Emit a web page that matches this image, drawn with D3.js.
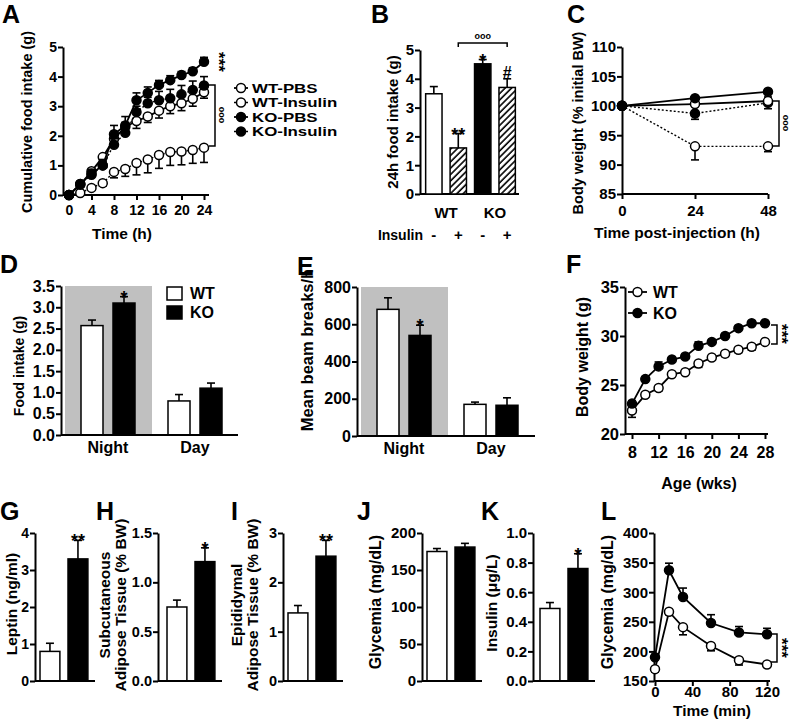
<!DOCTYPE html>
<html>
<head>
<meta charset="utf-8">
<script src="https://cdn.jsdelivr.net/npm/d3@7"></script>
<style>
body { margin: 0; background: #fff; }
svg text { font-family: "Liberation Sans", Arial, sans-serif; font-weight: bold; fill: #000; }
.axis path, .axis line { stroke: #000; stroke-width: 2; }
</style>
</head>
<body>
<div class="chart"></div>
<script>
// ---- Data ----
// A: cumulative food intake (g) over 24h
var timeA = [0, 2, 4, 6, 8, 10, 12, 14, 16, 18, 20, 22, 24];
var aWtPbs = [0, 0.35, 0.8, 1.28, 1.9, 2.3, 2.5, 2.65, 2.85, 3.0, 3.1, 3.25, 3.47];
var aWtPbsErr = [0, 0.05, 0.15, 0.15, 0.2, 0.2, 0.25, 0.2, 0.25, 0.25, 0.25, 0.25, 0.2];
var aWtIns = [0, 0.07, 0.24, 0.4, 0.78, 0.88, 1.08, 1.2, 1.35, 1.45, 1.47, 1.52, 1.6];
var aWtInsErr = [0, 0.05, 0.08, 0.1, 0.2, 0.25, 0.4, 0.45, 0.45, 0.45, 0.45, 0.45, 0.5];
var aKoPbs = [0, 0.37, 0.72, 1.0, 2.05, 2.35, 3.2, 3.45, 3.72, 3.88, 4.05, 4.18, 4.5];
var aKoPbsErr = [0, 0.05, 0.15, 0.2, 0.3, 0.3, 0.25, 0.2, 0.15, 0.15, 0.12, 0.12, 0.15];
var aKoIns = [0, 0.37, 0.68, 1.0, 1.7, 2.1, 2.8, 3.1, 3.2, 3.27, 3.4, 3.55, 3.7];
var aKoInsErr = [0, 0.05, 0.15, 0.15, 0.2, 0.35, 0.2, 0.2, 0.3, 0.3, 0.3, 0.3, 0.3];
var legendA = ["WT-PBS", "WT-Insulin", "KO-PBS", "KO-Insulin"];

// B: 24h food intake (g)
var groupsB = ["WT-PBS", "WT-Insulin", "KO-PBS", "KO-Insulin"];
var valuesB = [3.48, 1.6, 4.52, 3.7];
var errorsB = [0.25, 0.5, 0.15, 0.3];
var marksB = ["", "**", "*", "#"];
var insulinB = ["-", "+", "-", "+"];

// C: body weight (% initial BW)
var timeC = [0, 24, 48];
var cWtPbs = [100, 100.3, 100.8], cWtPbsErr = [0, 0.3, 0.7];
var cWtIns = [100, 93.1, 93.1], cWtInsErr = [0, 2.3, 0.9];
var cKoPbs = [100, 101.3, 102.4], cKoPbsErr = [0, 0.2, 0.3];
var cKoIns = [100, 98.7, 100.5], cKoInsErr = [0, 1.0, 1.0];

// D and E: night / day
var periods = ["Night", "Day"];
var genotypes = ["WT", "KO"];
var dWt = [2.57, 0.8], dWtErr = [0.13, 0.15];
var dKo = [3.1, 1.1], dKoErr = [0.15, 0.12];
var eWt = [680, 170], eWtErr = [62, 12];
var eKo = [540, 165], eKoErr = [55, 40];

// F: body weight (g) vs age (wks)
var ageF = [8, 10, 12, 14, 16, 18, 20, 22, 24, 26, 28];
var fWt = [22.4, 24.0, 24.7, 26.1, 26.3, 27.2, 27.8, 28.2, 28.6, 28.9, 29.4];
var fWtErr = [0.7, 0.25, 0.3, 0.2, 0.2, 0.4, 0.25, 0.3, 0.3, 0.35, 0.2];
var fKo = [23.1, 25.6, 26.9, 27.6, 27.9, 29.0, 29.4, 30.0, 30.8, 31.3, 31.3];
var fKoErr = [0.3, 0.25, 0.45, 0.2, 0.2, 0.4, 0.2, 0.2, 0.2, 0.2, 0.2];

// G-K: WT vs KO bars
var gVals = [0.8, 3.3], gErr = [0.22, 0.5];
var hVals = [0.75, 1.21], hErr = [0.07, 0.14];
var iVals = [1.38, 2.53], iErr = [0.15, 0.32];
var jVals = [175, 181], jErr = [4, 5];
var kVals = [0.49, 0.76], kErr = [0.04, 0.1];

// L: glucose tolerance
var timeL = [0, 15, 30, 60, 90, 120];
var lWt = [170, 267, 241, 209, 185, 178], lWtErr = [5, 5, 13, 8, 8, 5];
var lKo = [190, 337, 292, 248, 232, 229], lKoErr = [5, 12, 15, 14, 10, 10];

// ---- SVG ----
var svg = d3.select(".chart").append("svg")
    .attr("width", 797)
    .attr("height", 728);

// hatch pattern for insulin bars
svg.append("defs").append("pattern")
    .attr("id", "hatch")
    .attr("patternUnits", "userSpaceOnUse")
    .attr("width", 4.5).attr("height", 4.5)
    .attr("patternTransform", "rotate(45)")
    .call(function (p) {
        p.append("rect").attr("width", 4.5).attr("height", 4.5).attr("fill", "#fff");
        p.append("line").attr("x1", 1).attr("y1", 0).attr("x2", 1).attr("y2", 4.5)
            .attr("stroke", "#000").attr("stroke-width", 1.6);
    });

// ---- helpers ----
function text(g, str, x, y, size, anchor, rot, sx) {
    var t = g.append("text")
        .attr("font-size", size + "px")
        .attr("text-anchor", anchor || "middle")
        .text(str);
    if (rot) {
        t.attr("transform", "translate(" + x + "," + y + ") rotate(" + rot + ")").attr("dy", "0.35em");
    } else if (sx) {
        // horizontally stretched text (legend A is wider in the original)
        t.attr("transform", "translate(" + x + "," + y + ") scale(" + sx + ",1)");
    } else {
        t.attr("x", x).attr("y", y);
    }
    return t;
}

function yAxisAt(y, x, ticks, fmt, size) {
    svg.append("g").attr("class", "axis")
        .attr("transform", "translate(" + x + ",0)")
        .call(d3.axisLeft(y).tickValues(ticks).tickSize(5).tickSizeOuter(0).tickPadding(1)
            .tickFormat(fmt || d3.format("d")))
        .call(function (ax) {
            ax.selectAll("text").style("font-size", size + "px");
        });
}

function xAxisAt(x, y0, ticks, x0, x1, size, pad) {
    var ax = svg.append("g").attr("class", "axis")
        .attr("transform", "translate(0," + y0 + ")")
        .call(d3.axisBottom(x).tickValues(ticks).tickSize(5).tickSizeOuter(0).tickPadding(pad));
    ax.selectAll("text").style("font-size", size + "px");
    ax.select(".domain").attr("d", "M" + x0 + ",0H" + x1);
}

function baseLine(y0, x0, x1) {
    svg.append("line").attr("x1", x0).attr("x2", x1).attr("y1", y0).attr("y2", y0)
        .attr("stroke", "#000").attr("stroke-width", 2);
}

function bracket(x, y1, y2) {
    svg.append("path").attr("d", "M" + (x - 6) + "," + y1 + "H" + x + "V" + y2 + "H" + (x - 6))
        .attr("fill", "none").attr("stroke", "#000").attr("stroke-width", 1.5);
}

function errBar(g, cx, yv, ye, cap) {
    g.append("line").attr("x1", cx).attr("x2", cx).attr("y1", yv).attr("y2", ye)
        .attr("stroke", "#000").attr("stroke-width", 1.6);
    g.append("line").attr("x1", cx - cap).attr("x2", cx + cap).attr("y1", ye).attr("y2", ye)
        .attr("stroke", "#000").attr("stroke-width", 1.6);
}

// one line series with symbols; dir = +1 error up, -1 error down
function series(x, y, xs, ys, errs, dir, filled, dashed) {
    var g = svg.append("g");
    var line = d3.line().x(function (d, i) { return x(xs[i]); }).y(function (d) { return y(d); });
    g.append("path").datum(ys)
        .attr("d", line)
        .attr("fill", "none")
        .attr("stroke", "#000")
        .attr("stroke-width", dashed ? 1.4 : 1.8)
        .attr("stroke-dasharray", dashed ? "2,2" : null);
    ys.forEach(function (v, i) {
        if (errs[i] > 0) errBar(g, x(xs[i]), y(v), y(v + dir * errs[i]), 4);
    });
    g.selectAll("circle").data(ys).enter().append("circle")
        .attr("cx", function (d, i) { return x(xs[i]); })
        .attr("cy", function (d) { return y(d); })
        .attr("r", 4.5)
        .attr("fill", filled ? "#000" : "#fff")
        .attr("stroke", "#000")
        .attr("stroke-width", 1.5);
}

function bar(xLeft, w, y, v, e, fill, mark) {
    svg.append("rect")
        .attr("x", xLeft).attr("y", y(v))
        .attr("width", w).attr("height", y.range()[0] - y(v))
        .attr("fill", fill).attr("stroke", "#000").attr("stroke-width", 1.5);
    errBar(svg, xLeft + w / 2, y(v), y(v + e), 4);
    if (mark === "#") text(svg, mark, xLeft + w / 2, y(v + e) - 1, 16);
    else if (mark) text(svg, mark, xLeft + w / 2, y(v + e) + 7, 18);
}

function panelLetter(str, x, y) {
    text(svg, str, x, y, 25, "start");
}

// ---- Panel A ----
var xA = d3.scaleLinear().domain([0, 24]).range([69, 204]);
var yA = d3.scaleLinear().domain([0, 5]).range([195, 47]);
yAxisAt(yA, 63, [0, 1, 2, 3, 4, 5], null, 14);
xAxisAt(xA, 195, d3.range(0, 25, 4), 63, 209, 14, 5);
series(xA, yA, timeA, aWtIns, aWtInsErr, -1, false, true);
series(xA, yA, timeA, aWtPbs, aWtPbsErr, -1, false, false);
series(xA, yA, timeA, aKoIns, aKoInsErr, 1, true, true);
series(xA, yA, timeA, aKoPbs, aKoPbsErr, 1, true, false);
panelLetter("A", 2, 23);
text(svg, "Cumulative food intake (g)", 27, 122, 14.5, "middle", -90);
text(svg, "Time (h)", 122, 239, 15.5);
text(svg, "***", 219, 62, 17, "middle", 90);
bracket(215, 85, 146);
text(svg, "ooo", 222, 115, 9, "middle", 90);

// legend A
legendA.forEach(function (name, i) {
    var ly = 88 + i * 14.5;
    svg.append("line").attr("x1", 234).attr("x2", 248).attr("y1", ly).attr("y2", ly)
        .attr("stroke", "#000").attr("stroke-width", i % 2 ? 1.4 : 1.8)
        .attr("stroke-dasharray", i % 2 ? "2,2" : null);
    svg.append("circle").attr("cx", 241).attr("cy", ly).attr("r", 4.5)
        .attr("fill", i < 2 ? "#fff" : "#000").attr("stroke", "#000").attr("stroke-width", 1.5);
    text(svg, name, 252, ly + 4.5, 12.5, "start", null, 1.35);
});

// ---- Panel B ----
var yB = d3.scaleLinear().domain([0, 5]).range([194, 50]);
var xB = d3.scaleBand().domain(groupsB).range([421.5, 519.5]).paddingInner(0.33).paddingOuter(0.17);
var fillsB = ["#fff", "url(#hatch)", "#000", "url(#hatch)"];
yAxisAt(yB, 420, [0, 1, 2, 3, 4, 5], null, 15);
baseLine(194, 420, 519);
groupsB.forEach(function (gname, i) {
    bar(xB(gname), xB.bandwidth(), yB, valuesB[i], errorsB[i], fillsB[i], marksB[i]);
    text(svg, insulinB[i], xB(gname) + xB.bandwidth() / 2, 240, 15);
});
text(svg, "WT", (xB(groupsB[0]) + xB(groupsB[1]) + xB.bandwidth()) / 2, 218, 15);
text(svg, "KO", (xB(groupsB[2]) + xB(groupsB[3]) + xB.bandwidth()) / 2, 218, 15);
text(svg, "Insulin", 423, 240, 14, "end");
var bL = xB(groupsB[1]) + xB.bandwidth() / 2, bR = xB(groupsB[3]) + xB.bandwidth() / 2;
svg.append("path").attr("d", "M" + bL + ",47V43H" + bR + "V47").attr("fill", "none").attr("stroke", "#000").attr("stroke-width", 1.5);
text(svg, "ooo", (bL + bR) / 2, 39, 9);
panelLetter("B", 371, 23);
text(svg, "24h food intake (g)", 393, 122, 15, "middle", -90);

// ---- Panel C ----
var xC = d3.scaleLinear().domain([0, 48]).range([622, 768]);
var yC = d3.scaleLinear().domain([85, 110]).range([194, 47]);
yAxisAt(yC, 622, d3.range(85, 111, 5), null, 15);
xAxisAt(xC, 194, timeC, 622, 768, 15, 6);
series(xC, yC, timeC, cWtIns, cWtInsErr, -1, false, true);
series(xC, yC, timeC, cKoIns, cKoInsErr, -1, true, true);
series(xC, yC, timeC, cWtPbs, cWtPbsErr, 1, false, false);
series(xC, yC, timeC, cKoPbs, cKoPbsErr, 1, true, false);
bracket(779, 101, 146);
text(svg, "ooo", 786, 123, 9, "middle", 90);
panelLetter("C", 567, 23);
text(svg, "Body weight (% initial BW)", 578, 123, 14.5, "middle", -90);
text(svg, "Time post-injection (h)", 677, 238, 15.5);

// ---- Panel D / E (night vs day) ----
function dayNight(axisX, yScale, ticks, fmt, wt, wtErr, ko, koErr, xEnd, marks) {
    var y0 = yScale.range()[0], yTop = yScale.range()[1];
    var xG = d3.scaleBand().domain(periods).range([axisX + 3.5, axisX + 177.5]);
    var xI = d3.scaleBand().domain(genotypes).range([16.5, 70.5]).paddingInner(0.3125);
    // night shading
    svg.append("rect").attr("x", axisX + 4).attr("y", yTop)
        .attr("width", 87).attr("height", y0 - yTop).attr("fill", "#c0c0c0");
    periods.forEach(function (p, i) {
        bar(xG(p) + xI("WT"), xI.bandwidth(), yScale, wt[i], wtErr[i], "#fff", "");
        bar(xG(p) + xI("KO"), xI.bandwidth(), yScale, ko[i], koErr[i], "#000", marks[i]);
        text(svg, p, xG(p) + xG.bandwidth() / 2, y0 + 18, 16);
    });
    yAxisAt(yScale, axisX, ticks, fmt, 16);
    baseLine(y0, axisX, xEnd);
}
var yD = d3.scaleLinear().domain([0, 3.5]).range([435, 286]);
dayNight(61, yD, d3.range(0, 3.51, 0.5), d3.format(".1f"), dWt, dWtErr, dKo, dKoErr, 238, ["*", ""]);
panelLetter("D", 0, 273);
text(svg, "Food intake (g)", 19, 366, 14, "middle", -90);
// legend D
genotypes.forEach(function (gname, i) {
    svg.append("rect").attr("x", 167).attr("y", 287 + i * 19).attr("width", 15).attr("height", 13)
        .attr("fill", i ? "#000" : "#fff").attr("stroke", "#000").attr("stroke-width", 1.5);
    text(svg, gname, 190, 299 + i * 19, 16, "start");
});

var yE = d3.scaleLinear().domain([0, 800]).range([436, 287]);
dayNight(357, yE, d3.range(0, 801, 200), d3.format("d"), eWt, eWtErr, eKo, eKoErr, 535, ["*", ""]);
panelLetter("E", 297, 275);
text(svg, "Mean beam breaks/h", 307, 350, 16.5, "middle", -90);

// ---- Panel F ----
var xF = d3.scaleLinear().domain([8, 28]).range([632, 765]);
var yF = d3.scaleLinear().domain([20, 35]).range([434, 287]);
yAxisAt(yF, 625, [20, 25, 30, 35], null, 16.5);
xAxisAt(xF, 434, d3.range(8, 29, 4), 625, 768, 16, 8);
series(xF, yF, ageF, fWt, fWtErr, -1, false, false);
series(xF, yF, ageF, fKo, fKoErr, 1, true, false);
genotypes.forEach(function (gname, i) {
    var ly = 292 + i * 21;
    svg.append("line").attr("x1", 628).attr("x2", 647).attr("y1", ly).attr("y2", ly)
        .attr("stroke", "#000").attr("stroke-width", 1.8);
    svg.append("circle").attr("cx", 637.5).attr("cy", ly).attr("r", 4.5)
        .attr("fill", i ? "#000" : "#fff").attr("stroke", "#000").attr("stroke-width", 1.5);
    text(svg, gname, 653, ly + 6, 16, "start");
});
bracket(777, 325, 344);
text(svg, "***", 782, 334, 17, "middle", 90);
panelLetter("F", 566, 273);
text(svg, "Body weight (g)", 582, 357, 16, "middle", -90);
text(svg, "Age (wks)", 699, 489, 16);

// ---- Panels G-K (WT vs KO bars) ----
function twoBars(axisX, firstLeft, yScale, ticks, fmt, vals, errs, mark, size) {
    var xb = d3.scaleBand().domain(genotypes)
        .range([firstLeft - 2.8, firstLeft + 50.7]).paddingInner(0.29).paddingOuter(0.1);
    bar(xb("WT"), xb.bandwidth(), yScale, vals[0], errs[0], "#fff", "");
    bar(xb("KO"), xb.bandwidth(), yScale, vals[1], errs[1], "#000", mark);
    yAxisAt(yScale, axisX, ticks, fmt, size);
    baseLine(yScale.range()[0], axisX, firstLeft + 55);
}
var yG = d3.scaleLinear().domain([0, 4]).range([681, 533]);
twoBars(35, 40, yG, [0, 1, 2, 3, 4], d3.format("d"), gVals, gErr, "**", 14);
panelLetter("G", 0, 520);
text(svg, "Leptin (ng/ml)", 12, 604, 15.5, "middle", -90);

var yH = d3.scaleLinear().domain([0, 1.5]).range([681, 533]);
twoBars(158, 167, yH, [0, 0.5, 1, 1.5], d3.format(".1f"), hVals, hErr, "*", 14.5);
panelLetter("H", 96, 520);
text(svg, "Subcutaneous", 105, 605, 15.5, "middle", -90);
text(svg, "Adipose Tissue (% BW)", 121, 605, 15.5, "middle", -90);

var yI = d3.scaleLinear().domain([0, 3]).range([681, 533]);
twoBars(283, 288, yI, [0, 1, 2, 3], d3.format("d"), iVals, iErr, "**", 14.5);
panelLetter("I", 231, 520);
text(svg, "Epididymal", 237, 605, 15.5, "middle", -90);
text(svg, "Adipose Tissue (% BW)", 253, 605, 15.5, "middle", -90);

var yJ = d3.scaleLinear().domain([0, 200]).range([681, 533]);
twoBars(422, 427, yJ, [0, 50, 100, 150, 200], d3.format("d"), jVals, jErr, "", 15);
panelLetter("J", 357, 520);
text(svg, "Glycemia (mg/dL)", 375, 602, 16, "middle", -90);

var yK = d3.scaleLinear().domain([0, 1]).range([681, 533]);
twoBars(533, 540, yK, [0, 0.2, 0.4, 0.6, 0.8, 1.0], d3.format(".1f"), kVals, kErr, "*", 15);
panelLetter("K", 481, 520);
text(svg, "Insulin (μg/L)", 492, 603, 15.5, "middle", -90);

// ---- Panel L ----
var xL = d3.scaleLinear().domain([0, 120]).range([655, 767]);
var yL = d3.scaleLinear().domain([150, 400]).range([681, 533]);
yAxisAt(yL, 654, d3.range(150, 401, 50), null, 15);
xAxisAt(xL, 681, [0, 40, 80, 120], 654, 770, 15, 0);
series(xL, yL, timeL, lWt, lWtErr, -1, false, false);
series(xL, yL, timeL, lKo, lKoErr, 1, true, false);
bracket(777, 634, 662);
text(svg, "***", 782, 648, 17, "middle", 90);
panelLetter("L", 601, 520);
text(svg, "Glycemia (mg/dL)", 607, 602, 16, "middle", -90);
text(svg, "Time (min)", 712, 716, 15.5);
</script>
</body>
</html>
